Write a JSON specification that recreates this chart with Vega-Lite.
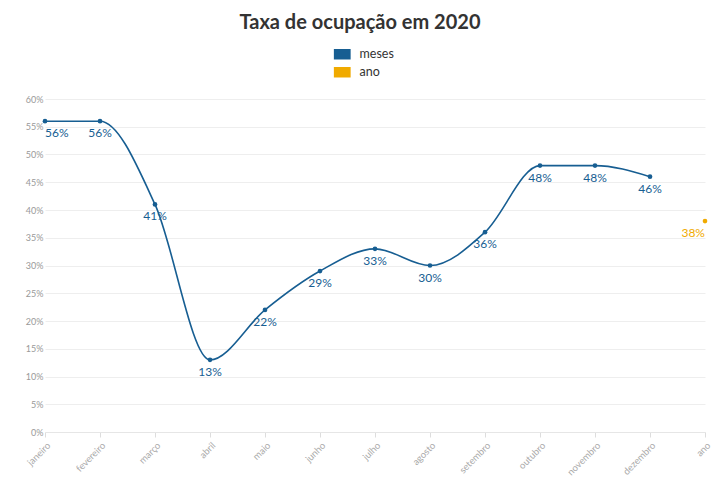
{
  "$schema": "https://vega.github.io/schema/vega-lite/v6.json",
  "autosize": {"type": "none"},
  "width": 660,
  "height": 333,
  "padding": {"left": 45, "top": 99, "right": 15, "bottom": 48},
  "background": "white",
  "title": {"text": "Taxa de ocupação em 2020", "font": "Lato", "fontSize": 20, "fontWeight": "bold", "color": "#333333", "anchor": "middle", "dx": -15, "offset": 15},
  "data": {"values": [
    {"mes": "janeiro", "taxa": 0.56, "serie": "meses"},
    {"mes": "fevereiro", "taxa": 0.56, "serie": "meses"},
    {"mes": "março", "taxa": 0.41, "serie": "meses"},
    {"mes": "abril", "taxa": 0.13, "serie": "meses"},
    {"mes": "maio", "taxa": 0.22, "serie": "meses"},
    {"mes": "junho", "taxa": 0.29, "serie": "meses"},
    {"mes": "julho", "taxa": 0.33, "serie": "meses"},
    {"mes": "agosto", "taxa": 0.30, "serie": "meses"},
    {"mes": "setembro", "taxa": 0.36, "serie": "meses"},
    {"mes": "outubro", "taxa": 0.48, "serie": "meses"},
    {"mes": "novembro", "taxa": 0.48, "serie": "meses"},
    {"mes": "dezembro", "taxa": 0.46, "serie": "meses"},
    {"mes": "ano", "taxa": 0.38, "serie": "ano"}
  ]},
  "encoding": {
    "x": {"field": "mes", "type": "ordinal", "sort": null,
      "scale": {"type": "point", "padding": 0},
      "axis": {"title": null, "labelAngle": -45, "labelAlign": "right", "labelBaseline": "top", "labelFontSize": 9.5, "labelColor": "#aaaaaa", "labelFont": "Lato", "tickColor": "#dddddd", "tickSize": 5, "domainColor": "#e6e6e6", "grid": false, "labelPadding": 3}},
    "y": {"field": "taxa", "type": "quantitative",
      "scale": {"domain": [0, 0.6]},
      "axis": {"title": null, "format": ".0%", "values": [0, 0.05, 0.1, 0.15, 0.2, 0.25, 0.3, 0.35, 0.4, 0.45, 0.5, 0.55, 0.6], "labelFontSize": 9, "labelColor": "#999999", "labelFont": "Lato", "domain": false, "ticks": false, "gridColor": "#eeeeee", "labelPadding": 2}},
    "color": {"field": "serie", "type": "nominal",
      "scale": {"domain": ["meses", "ano"], "range": ["#175e92", "#f0aa00"]},
      "legend": {"title": null, "orient": "none", "direction": "vertical", "legendX": 291, "legendY": -51,
        "symbolType": "M-1.6,-1L1.6,-1L1.6,1L-1.6,1Z", "symbolSize": 110, "symbolStrokeWidth": 0, "symbolOpacity": 1,
        "labelFont": "Lato", "labelFontSize": 12.5, "labelColor": "#333333", "rowPadding": 5, "labelOffset": 11}}
  },
  "layer": [
    {"transform": [{"filter": "datum.serie === 'meses'"}],
      "mark": {"type": "line", "interpolate": "monotone", "strokeWidth": 1.6}},
    {"mark": {"type": "point", "filled": true, "size": 22, "opacity": 1}},
    {"transform": [{"filter": "datum.mes !== 'janeiro' && datum.mes !== 'ano'"}],
      "mark": {"type": "text", "dy": 12, "font": "Lato", "fontSize": 12, "align": "center"},
      "encoding": {"text": {"field": "taxa", "type": "quantitative", "format": ".0%"}}},
    {"transform": [{"filter": "datum.mes === 'janeiro'"}],
      "mark": {"type": "text", "dy": 12, "font": "Lato", "fontSize": 12, "align": "left"},
      "encoding": {"text": {"field": "taxa", "type": "quantitative", "format": ".0%"}}},
    {"transform": [{"filter": "datum.mes === 'ano'"}],
      "mark": {"type": "text", "dy": 12, "font": "Lato", "fontSize": 12, "align": "right"},
      "encoding": {"text": {"field": "taxa", "type": "quantitative", "format": ".0%"}}}
  ],
  "config": {"view": {"stroke": null}}
}
